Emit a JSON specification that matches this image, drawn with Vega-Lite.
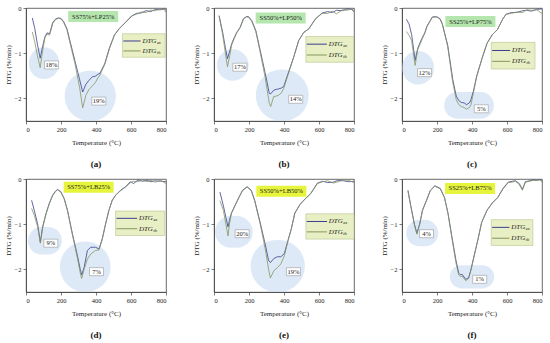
{
"$schema": "https://vega.github.io/schema/vega-lite/v6.json",
"padding": {"left": 3, "top": 4, "right": 4, "bottom": 2},
"config": {
  "view": {"stroke": "#444", "strokeWidth": 0.8},
  "font": "Liberation Serif",
  "axis": {"labelFont": "Liberation Serif", "titleFont": "Liberation Serif", "labelFontSize": 6.5, "titleFontSize": 7, "titleFontWeight": "normal", "labelColor": "#222", "titleColor": "#222", "tickSize": 3, "tickColor": "#444", "domainColor": "#444", "domainWidth": 0.8, "tickWidth": 0.7, "grid": false, "titlePadding": 3, "labelPadding": 2},
  "axisX": {"titlePadding": 6},
  "header": {"labelFont": "Liberation Serif"}
},
"data": {"values": [
{"p":"(a)","k":"c","t":36,"ex":-0.22,"th":-0.53},
{"p":"(a)","k":"c","t":50,"ex":-0.45,"th":-0.75},
{"p":"(a)","k":"c","t":65,"ex":-0.8,"th":-1.05},
{"p":"(a)","k":"c","t":81,"ex":-1.11,"th":-1.32},
{"p":"(a)","k":"c","t":95,"ex":-0.85,"th":-0.95},
{"p":"(a)","k":"c","t":108,"ex":-0.64,"th":-0.66},
{"p":"(a)","k":"c","t":120,"ex":-0.55,"th":-0.58},
{"p":"(a)","k":"c","t":135,"ex":-0.57,"th":-0.6},
{"p":"(a)","k":"c","t":153,"ex":-0.32,"th":-0.34},
{"p":"(a)","k":"c","t":170,"ex":-0.24,"th":-0.25},
{"p":"(a)","k":"c","t":185,"ex":-0.22,"th":-0.23},
{"p":"(a)","k":"c","t":200,"ex":-0.23,"th":-0.24},
{"p":"(a)","k":"c","t":215,"ex":-0.3,"th":-0.32},
{"p":"(a)","k":"c","t":234,"ex":-0.46,"th":-0.48},
{"p":"(a)","k":"c","t":252,"ex":-0.74,"th":-0.78},
{"p":"(a)","k":"c","t":279,"ex":-1.16,"th":-1.22},
{"p":"(a)","k":"c","t":306,"ex":-1.58,"th":-1.75},
{"p":"(a)","k":"c","t":324,"ex":-1.86,"th":-2.21},
{"p":"(a)","k":"c","t":342,"ex":-1.69,"th":-1.93},
{"p":"(a)","k":"c","t":360,"ex":-1.6,"th":-1.8},
{"p":"(a)","k":"c","t":380,"ex":-1.52,"th":-1.72},
{"p":"(a)","k":"c","t":396,"ex":-1.51,"th":-1.65},
{"p":"(a)","k":"c","t":410,"ex":-1.47,"th":-1.55},
{"p":"(a)","k":"c","t":423,"ex":-1.44,"th":-1.48},
{"p":"(a)","k":"c","t":450,"ex":-1.23,"th":-1.25},
{"p":"(a)","k":"c","t":477,"ex":-0.88,"th":-0.9},
{"p":"(a)","k":"c","t":505,"ex":-0.6,"th":-0.6},
{"p":"(a)","k":"c","t":532,"ex":-0.46,"th":-0.46},
{"p":"(a)","k":"c","t":568,"ex":-0.32,"th":-0.32},
{"p":"(a)","k":"c","t":604,"ex":-0.18,"th":-0.17},
{"p":"(a)","k":"c","t":630,"ex":-0.12,"th":-0.14},
{"p":"(a)","k":"c","t":658,"ex":-0.11,"th":-0.09},
{"p":"(a)","k":"c","t":685,"ex":-0.06,"th":-0.1},
{"p":"(a)","k":"c","t":712,"ex":-0.08,"th":-0.05},
{"p":"(a)","k":"c","t":740,"ex":-0.03,"th":-0.06},
{"p":"(a)","k":"c","t":766,"ex":-0.04,"th":-0.02},
{"p":"(a)","k":"c","t":790,"ex":-0.02,"th":-0.03},
{"p":"(a)","k":"c","t":800,"ex":-0.05,"th":-0.1},
{"p":"(b)","k":"c","t":29,"ex":-0.17,"th":-0.17},
{"p":"(b)","k":"c","t":50,"ex":-0.55,"th":-0.6},
{"p":"(b)","k":"c","t":65,"ex":-0.88,"th":-1.0},
{"p":"(b)","k":"c","t":77,"ex":-1.12,"th":-1.3},
{"p":"(b)","k":"c","t":90,"ex":-0.95,"th":-1.05},
{"p":"(b)","k":"c","t":101,"ex":-0.79,"th":-0.82},
{"p":"(b)","k":"c","t":115,"ex":-0.66,"th":-0.68},
{"p":"(b)","k":"c","t":130,"ex":-0.54,"th":-0.55},
{"p":"(b)","k":"c","t":149,"ex":-0.43,"th":-0.44},
{"p":"(b)","k":"c","t":168,"ex":-0.24,"th":-0.25},
{"p":"(b)","k":"c","t":185,"ex":-0.19,"th":-0.2},
{"p":"(b)","k":"c","t":197,"ex":-0.19,"th":-0.2},
{"p":"(b)","k":"c","t":216,"ex":-0.28,"th":-0.3},
{"p":"(b)","k":"c","t":239,"ex":-0.5,"th":-0.52},
{"p":"(b)","k":"c","t":264,"ex":-0.94,"th":-0.98},
{"p":"(b)","k":"c","t":293,"ex":-1.45,"th":-1.55},
{"p":"(b)","k":"c","t":316,"ex":-1.89,"th":-2.11},
{"p":"(b)","k":"c","t":324,"ex":-1.9,"th":-2.18},
{"p":"(b)","k":"c","t":341,"ex":-1.82,"th":-1.96},
{"p":"(b)","k":"c","t":355,"ex":-1.8,"th":-1.95},
{"p":"(b)","k":"c","t":369,"ex":-1.79,"th":-1.93},
{"p":"(b)","k":"c","t":385,"ex":-1.77,"th":-1.88},
{"p":"(b)","k":"c","t":398,"ex":-1.74,"th":-1.78},
{"p":"(b)","k":"c","t":427,"ex":-1.41,"th":-1.43},
{"p":"(b)","k":"c","t":456,"ex":-1.08,"th":-1.08},
{"p":"(b)","k":"c","t":484,"ex":-0.72,"th":-0.72},
{"p":"(b)","k":"c","t":513,"ex":-0.54,"th":-0.54},
{"p":"(b)","k":"c","t":542,"ex":-0.46,"th":-0.46},
{"p":"(b)","k":"c","t":580,"ex":-0.24,"th":-0.24},
{"p":"(b)","k":"c","t":618,"ex":-0.11,"th":-0.12},
{"p":"(b)","k":"c","t":650,"ex":-0.08,"th":-0.12},
{"p":"(b)","k":"c","t":676,"ex":-0.1,"th":-0.07},
{"p":"(b)","k":"c","t":700,"ex":-0.05,"th":-0.13},
{"p":"(b)","k":"c","t":733,"ex":-0.06,"th":-0.04},
{"p":"(b)","k":"c","t":760,"ex":-0.02,"th":-0.05},
{"p":"(b)","k":"c","t":785,"ex":-0.03,"th":-0.02},
{"p":"(b)","k":"c","t":800,"ex":-0.08,"th":-0.05},
{"p":"(c)","k":"c","t":25,"ex":-0.25,"th":-0.52},
{"p":"(c)","k":"c","t":40,"ex":-0.35,"th":-0.6},
{"p":"(c)","k":"c","t":55,"ex":-0.59,"th":-0.72},
{"p":"(c)","k":"c","t":75,"ex":-1.16,"th":-1.27},
{"p":"(c)","k":"c","t":90,"ex":-0.89,"th":-0.92},
{"p":"(c)","k":"c","t":114,"ex":-0.67,"th":-0.7},
{"p":"(c)","k":"c","t":130,"ex":-0.55,"th":-0.56},
{"p":"(c)","k":"c","t":143,"ex":-0.4,"th":-0.41},
{"p":"(c)","k":"c","t":158,"ex":-0.3,"th":-0.31},
{"p":"(c)","k":"c","t":173,"ex":-0.2,"th":-0.21},
{"p":"(c)","k":"c","t":190,"ex":-0.19,"th":-0.2},
{"p":"(c)","k":"c","t":202,"ex":-0.2,"th":-0.21},
{"p":"(c)","k":"c","t":218,"ex":-0.24,"th":-0.25},
{"p":"(c)","k":"c","t":231,"ex":-0.36,"th":-0.37},
{"p":"(c)","k":"c","t":261,"ex":-0.82,"th":-0.85},
{"p":"(c)","k":"c","t":290,"ex":-1.58,"th":-1.65},
{"p":"(c)","k":"c","t":310,"ex":-1.95,"th":-2.03},
{"p":"(c)","k":"c","t":325,"ex":-2.05,"th":-2.14},
{"p":"(c)","k":"c","t":339,"ex":-2.09,"th":-2.18},
{"p":"(c)","k":"c","t":355,"ex":-2.1,"th":-2.2},
{"p":"(c)","k":"c","t":369,"ex":-2.14,"th":-2.24},
{"p":"(c)","k":"c","t":385,"ex":-2.1,"th":-2.2},
{"p":"(c)","k":"c","t":394,"ex":-2.03,"th":-2.14},
{"p":"(c)","k":"c","t":408,"ex":-1.84,"th":-1.88},
{"p":"(c)","k":"c","t":427,"ex":-1.5,"th":-1.52},
{"p":"(c)","k":"c","t":457,"ex":-1.12,"th":-1.12},
{"p":"(c)","k":"c","t":486,"ex":-0.78,"th":-0.78},
{"p":"(c)","k":"c","t":516,"ex":-0.59,"th":-0.59},
{"p":"(c)","k":"c","t":545,"ex":-0.48,"th":-0.48},
{"p":"(c)","k":"c","t":575,"ex":-0.25,"th":-0.25},
{"p":"(c)","k":"c","t":594,"ex":-0.14,"th":-0.14},
{"p":"(c)","k":"c","t":625,"ex":-0.1,"th":-0.12},
{"p":"(c)","k":"c","t":653,"ex":-0.1,"th":-0.09},
{"p":"(c)","k":"c","t":690,"ex":-0.06,"th":-0.1},
{"p":"(c)","k":"c","t":712,"ex":-0.05,"th":-0.04},
{"p":"(c)","k":"c","t":740,"ex":-0.07,"th":-0.05},
{"p":"(c)","k":"c","t":770,"ex":-0.03,"th":-0.04},
{"p":"(c)","k":"c","t":800,"ex":-0.02,"th":-0.12},
{"p":"(d)","k":"c","t":32,"ex":-0.47,"th":-0.65},
{"p":"(d)","k":"c","t":47,"ex":-0.69,"th":-0.8},
{"p":"(d)","k":"c","t":66,"ex":-0.99,"th":-1.05},
{"p":"(d)","k":"c","t":82,"ex":-1.4,"th":-1.42},
{"p":"(d)","k":"c","t":95,"ex":-1.06,"th":-1.08},
{"p":"(d)","k":"c","t":114,"ex":-0.77,"th":-0.78},
{"p":"(d)","k":"c","t":133,"ex":-0.54,"th":-0.55},
{"p":"(d)","k":"c","t":152,"ex":-0.36,"th":-0.37},
{"p":"(d)","k":"c","t":168,"ex":-0.27,"th":-0.28},
{"p":"(d)","k":"c","t":180,"ex":-0.23,"th":-0.24},
{"p":"(d)","k":"c","t":199,"ex":-0.28,"th":-0.29},
{"p":"(d)","k":"c","t":218,"ex":-0.43,"th":-0.44},
{"p":"(d)","k":"c","t":237,"ex":-0.69,"th":-0.7},
{"p":"(d)","k":"c","t":265,"ex":-1.21,"th":-1.23},
{"p":"(d)","k":"c","t":294,"ex":-1.7,"th":-1.75},
{"p":"(d)","k":"c","t":310,"ex":-2.0,"th":-2.08},
{"p":"(d)","k":"c","t":318,"ex":-2.12,"th":-2.2},
{"p":"(d)","k":"c","t":332,"ex":-1.96,"th":-2.0},
{"p":"(d)","k":"c","t":351,"ex":-1.58,"th":-1.77},
{"p":"(d)","k":"c","t":370,"ex":-1.51,"th":-1.66},
{"p":"(d)","k":"c","t":398,"ex":-1.51,"th":-1.58},
{"p":"(d)","k":"c","t":417,"ex":-1.55,"th":-1.57},
{"p":"(d)","k":"c","t":436,"ex":-1.32,"th":-1.33},
{"p":"(d)","k":"c","t":455,"ex":-0.99,"th":-0.99},
{"p":"(d)","k":"c","t":474,"ex":-0.69,"th":-0.69},
{"p":"(d)","k":"c","t":493,"ex":-0.47,"th":-0.47},
{"p":"(d)","k":"c","t":512,"ex":-0.36,"th":-0.36},
{"p":"(d)","k":"c","t":540,"ex":-0.25,"th":-0.26},
{"p":"(d)","k":"c","t":569,"ex":-0.17,"th":-0.18},
{"p":"(d)","k":"c","t":597,"ex":-0.06,"th":-0.08},
{"p":"(d)","k":"c","t":615,"ex":-0.1,"th":-0.05},
{"p":"(d)","k":"c","t":640,"ex":-0.02,"th":-0.06},
{"p":"(d)","k":"c","t":665,"ex":-0.05,"th":-0.02},
{"p":"(d)","k":"c","t":690,"ex":-0.03,"th":-0.06},
{"p":"(d)","k":"c","t":715,"ex":-0.06,"th":-0.03},
{"p":"(d)","k":"c","t":739,"ex":-0.04,"th":-0.07},
{"p":"(d)","k":"c","t":770,"ex":-0.05,"th":-0.03},
{"p":"(d)","k":"c","t":800,"ex":-0.06,"th":-0.1},
{"p":"(e)","k":"c","t":34,"ex":-0.29,"th":-0.48},
{"p":"(e)","k":"c","t":54,"ex":-0.6,"th":-0.7},
{"p":"(e)","k":"c","t":68,"ex":-0.85,"th":-1.0},
{"p":"(e)","k":"c","t":80,"ex":-1.06,"th":-1.26},
{"p":"(e)","k":"c","t":90,"ex":-0.88,"th":-0.95},
{"p":"(e)","k":"c","t":100,"ex":-0.75,"th":-0.76},
{"p":"(e)","k":"c","t":123,"ex":-0.56,"th":-0.57},
{"p":"(e)","k":"c","t":143,"ex":-0.4,"th":-0.41},
{"p":"(e)","k":"c","t":163,"ex":-0.25,"th":-0.26},
{"p":"(e)","k":"c","t":189,"ex":-0.17,"th":-0.18},
{"p":"(e)","k":"c","t":213,"ex":-0.25,"th":-0.26},
{"p":"(e)","k":"c","t":233,"ex":-0.48,"th":-0.49},
{"p":"(e)","k":"c","t":263,"ex":-0.95,"th":-0.98},
{"p":"(e)","k":"c","t":293,"ex":-1.45,"th":-1.55},
{"p":"(e)","k":"c","t":312,"ex":-1.8,"th":-2.0},
{"p":"(e)","k":"c","t":322,"ex":-1.85,"th":-2.19},
{"p":"(e)","k":"c","t":342,"ex":-1.76,"th":-2.03},
{"p":"(e)","k":"c","t":362,"ex":-1.72,"th":-1.96},
{"p":"(e)","k":"c","t":382,"ex":-1.72,"th":-1.88},
{"p":"(e)","k":"c","t":402,"ex":-1.65,"th":-1.7},
{"p":"(e)","k":"c","t":422,"ex":-1.37,"th":-1.38},
{"p":"(e)","k":"c","t":442,"ex":-1.1,"th":-1.1},
{"p":"(e)","k":"c","t":462,"ex":-0.75,"th":-0.76},
{"p":"(e)","k":"c","t":492,"ex":-0.56,"th":-0.56},
{"p":"(e)","k":"c","t":521,"ex":-0.44,"th":-0.44},
{"p":"(e)","k":"c","t":551,"ex":-0.33,"th":-0.33},
{"p":"(e)","k":"c","t":571,"ex":-0.21,"th":-0.22},
{"p":"(e)","k":"c","t":591,"ex":-0.09,"th":-0.1},
{"p":"(e)","k":"c","t":621,"ex":-0.05,"th":-0.06},
{"p":"(e)","k":"c","t":650,"ex":-0.08,"th":-0.04},
{"p":"(e)","k":"c","t":681,"ex":-0.07,"th":-0.09},
{"p":"(e)","k":"c","t":710,"ex":-0.03,"th":-0.06},
{"p":"(e)","k":"c","t":740,"ex":-0.04,"th":-0.02},
{"p":"(e)","k":"c","t":770,"ex":-0.06,"th":-0.03},
{"p":"(e)","k":"c","t":800,"ex":-0.05,"th":-0.08},
{"p":"(f)","k":"c","t":34,"ex":-0.25,"th":-0.27},
{"p":"(f)","k":"c","t":51,"ex":-0.61,"th":-0.62},
{"p":"(f)","k":"c","t":71,"ex":-1.0,"th":-1.02},
{"p":"(f)","k":"c","t":85,"ex":-1.2,"th":-1.22},
{"p":"(f)","k":"c","t":101,"ex":-1.0,"th":-1.0},
{"p":"(f)","k":"c","t":117,"ex":-0.69,"th":-0.7},
{"p":"(f)","k":"c","t":142,"ex":-0.45,"th":-0.46},
{"p":"(f)","k":"c","t":162,"ex":-0.25,"th":-0.26},
{"p":"(f)","k":"c","t":188,"ex":-0.15,"th":-0.16},
{"p":"(f)","k":"c","t":219,"ex":-0.21,"th":-0.22},
{"p":"(f)","k":"c","t":243,"ex":-0.41,"th":-0.42},
{"p":"(f)","k":"c","t":263,"ex":-0.76,"th":-0.77},
{"p":"(f)","k":"c","t":287,"ex":-1.32,"th":-1.35},
{"p":"(f)","k":"c","t":308,"ex":-1.79,"th":-1.85},
{"p":"(f)","k":"c","t":324,"ex":-2.08,"th":-2.12},
{"p":"(f)","k":"c","t":334,"ex":-2.12,"th":-2.16},
{"p":"(f)","k":"c","t":344,"ex":-2.11,"th":-2.15},
{"p":"(f)","k":"c","t":364,"ex":-2.22,"th":-2.25},
{"p":"(f)","k":"c","t":381,"ex":-2.18,"th":-2.2},
{"p":"(f)","k":"c","t":395,"ex":-1.99,"th":-2.0},
{"p":"(f)","k":"c","t":409,"ex":-1.75,"th":-1.76},
{"p":"(f)","k":"c","t":435,"ex":-1.32,"th":-1.32},
{"p":"(f)","k":"c","t":455,"ex":-0.96,"th":-0.96},
{"p":"(f)","k":"c","t":486,"ex":-0.69,"th":-0.69},
{"p":"(f)","k":"c","t":516,"ex":-0.53,"th":-0.53},
{"p":"(f)","k":"c","t":547,"ex":-0.41,"th":-0.41},
{"p":"(f)","k":"c","t":577,"ex":-0.21,"th":-0.22},
{"p":"(f)","k":"c","t":607,"ex":-0.07,"th":-0.08},
{"p":"(f)","k":"c","t":630,"ex":-0.05,"th":-0.07},
{"p":"(f)","k":"c","t":648,"ex":-0.04,"th":-0.05},
{"p":"(f)","k":"c","t":670,"ex":-0.1,"th":-0.12},
{"p":"(f)","k":"c","t":688,"ex":-0.23,"th":-0.25},
{"p":"(f)","k":"c","t":705,"ex":-0.06,"th":-0.07},
{"p":"(f)","k":"c","t":729,"ex":-0.04,"th":-0.05},
{"p":"(f)","k":"c","t":750,"ex":-0.02,"th":-0.03},
{"p":"(f)","k":"c","t":769,"ex":-0.03,"th":-0.03},
{"p":"(f)","k":"c","t":790,"ex":-0.01,"th":-0.02},
{"p":"(f)","k":"c","t":800,"ex":-0.06,"th":-0.07},
{"p":"(a)","k":"r","t":17,"t2":189,"v":-0.87,"v2":-1.57},
{"p":"(a)","k":"r","t":221,"t2":513,"v":-1.39,"v2":-2.5},
{"p":"(b)","k":"r","t":16,"t2":198,"v":-0.91,"v2":-1.61},
{"p":"(b)","k":"r","t":239,"t2":541,"v":-1.36,"v2":-2.5},
{"p":"(c)","k":"r","t":2,"t2":182,"v":-0.95,"v2":-1.69},
{"p":"(c)","k":"r","t":241,"t2":525,"v":-1.86,"v2":-2.45},
{"p":"(d)","k":"r","t":11,"t2":205,"v":-1.06,"v2":-1.67},
{"p":"(d)","k":"r","t":194,"t2":483,"v":-1.38,"v2":-2.5},
{"p":"(e)","k":"r","t":6,"t2":221,"v":-0.82,"v2":-1.52},
{"p":"(e)","k":"r","t":209,"t2":519,"v":-1.35,"v2":-2.5},
{"p":"(f)","k":"r","t":24,"t2":207,"v":-0.9,"v2":-1.49},
{"p":"(f)","k":"r","t":273,"t2":527,"v":-1.91,"v2":-2.42},
{"p":"(a)","k":"l","t":146,"v":-1.26,"label":"18%"},
{"p":"(a)","k":"l","t":416,"v":-2.06,"label":"19%"},
{"p":"(b)","k":"l","t":148,"v":-1.31,"label":"17%"},
{"p":"(b)","k":"l","t":467,"v":-2.02,"label":"14%"},
{"p":"(c)","k":"l","t":129,"v":-1.43,"label":"12%"},
{"p":"(c)","k":"l","t":453,"v":-2.23,"label":"5%"},
{"p":"(d)","k":"l","t":142,"v":-1.42,"label":"9%"},
{"p":"(d)","k":"l","t":403,"v":-2.05,"label":"7%"},
{"p":"(e)","k":"l","t":161,"v":-1.21,"label":"20%"},
{"p":"(e)","k":"l","t":454,"v":-2.05,"label":"19%"},
{"p":"(f)","k":"l","t":140,"v":-1.21,"label":"4%"},
{"p":"(f)","k":"l","t":444,"v":-2.22,"label":"1%"},
{"p":"(a)","k":"h","t":384,"v":-0.19,"label":"SS75%+LP25%","g":"LP"},
{"p":"(b)","k":"h","t":381,"v":-0.22,"label":"SS50%+LP50%","g":"LP"},
{"p":"(c)","k":"h","t":391,"v":-0.3,"label":"SS25%+LP75%","g":"LP"},
{"p":"(d)","k":"h","t":358,"v":-0.18,"label":"SS75%+LB25%","g":"LB"},
{"p":"(e)","k":"h","t":385,"v":-0.27,"label":"SS50%+LB50%","g":"LB"},
{"p":"(f)","k":"h","t":389,"v":-0.21,"label":"SS25%+LB75%","g":"LB"},
{"p":"(a)","k":"b","t":551,"t2":795,"v":-0.57,"v2":-1.09},
{"p":"(b)","k":"b","t":525,"t2":798,"v":-0.63,"v2":-1.2},
{"p":"(c)","k":"b","t":510,"t2":760,"v":-0.76,"v2":-1.35},
{"p":"(d)","k":"b","t":512,"t2":792,"v":-0.71,"v2":-1.25},
{"p":"(e)","k":"b","t":525,"t2":800,"v":-0.77,"v2":-1.33},
{"p":"(f)","k":"b","t":510,"t2":748,"v":-0.9,"v2":-1.47},
{"p":"(a)","k":"g","s":"ex","t":556,"t2":655,"v":-0.73},
{"p":"(a)","k":"g","s":"th","t":556,"t2":655,"v":-0.95},
{"p":"(b)","k":"g","s":"ex","t":530,"t2":645,"v":-0.8},
{"p":"(b)","k":"g","s":"th","t":530,"t2":645,"v":-1.04},
{"p":"(c)","k":"g","s":"ex","t":515,"t2":618,"v":-0.94},
{"p":"(c)","k":"g","s":"th","t":515,"t2":618,"v":-1.18},
{"p":"(d)","k":"g","s":"ex","t":517,"t2":635,"v":-0.87},
{"p":"(d)","k":"g","s":"th","t":517,"t2":635,"v":-1.1},
{"p":"(e)","k":"g","s":"ex","t":530,"t2":646,"v":-0.94},
{"p":"(e)","k":"g","s":"th","t":530,"t2":646,"v":-1.17},
{"p":"(f)","k":"g","s":"ex","t":515,"t2":614,"v":-1.07},
{"p":"(f)","k":"g","s":"th","t":515,"t2":614,"v":-1.31},
{"p":"(a)","k":"gt","s":"ex","t":665,"v":-0.73},
{"p":"(a)","k":"gt","s":"th","t":665,"v":-0.95},
{"p":"(b)","k":"gt","s":"ex","t":655,"v":-0.8},
{"p":"(b)","k":"gt","s":"th","t":655,"v":-1.04},
{"p":"(c)","k":"gt","s":"ex","t":628,"v":-0.94},
{"p":"(c)","k":"gt","s":"th","t":628,"v":-1.18},
{"p":"(d)","k":"gt","s":"ex","t":645,"v":-0.87},
{"p":"(d)","k":"gt","s":"th","t":645,"v":-1.1},
{"p":"(e)","k":"gt","s":"ex","t":656,"v":-0.94},
{"p":"(e)","k":"gt","s":"th","t":656,"v":-1.17},
{"p":"(f)","k":"gt","s":"ex","t":624,"v":-1.07},
{"p":"(f)","k":"gt","s":"th","t":624,"v":-1.31}
]},
"facet": {"field": "p", "type": "nominal", "header": {"title": null, "labelOrient": "bottom", "labelFontWeight": "bold", "labelFontSize": 9, "labelPadding": 14, "labelColor": "#111"}},
"columns": 3,
"spacing": {"row": 6, "column": 24},
"resolve": {"axis": {"x": "independent", "y": "independent"}},
"spec": {
  "width": 140,
  "height": 113,
  "encoding": {
    "x": {"field": "t", "type": "quantitative", "title": "Temperature (°C)", "scale": {"domain": [0, 800], "nice": false}, "axis": {"values": [0, 200, 400, 600, 800]}},
    "y": {"field": "v", "type": "quantitative", "title": "DTG (%/min)", "scale": {"domain": [-2.5, 0], "nice": false}, "axis": {"values": [-2, -1, 0]}}
  },
  "layer": [
    {"transform": [{"filter": "datum.k == 'r'"}], "mark": {"type": "rect", "cornerRadius": 80, "fill": "#cfdff2", "fillOpacity": 0.7, "clip": true}, "encoding": {"x2": {"field": "t2"}, "y2": {"field": "v2"}}},
    {"transform": [{"filter": "datum.k == 'c'"}, {"fold": ["ex", "th"], "as": ["s", "v"]}], "mark": {"type": "line", "strokeWidth": 0.8, "clip": true}, "encoding": {"color": {"field": "s", "type": "nominal", "scale": {"domain": ["ex", "th"], "range": ["#3b3f8e", "#86955f"]}, "legend": null}}},
    {"transform": [{"filter": "datum.k == 'b'"}], "mark": {"type": "rect", "fill": "#e8efc4", "stroke": "#b3c58a", "strokeWidth": 0.6}, "encoding": {"x2": {"field": "t2"}, "y2": {"field": "v2"}}},
    {"transform": [{"filter": "datum.k == 'g'"}], "mark": {"type": "rule", "strokeWidth": 1}, "encoding": {"x2": {"field": "t2"}, "color": {"field": "s", "type": "nominal", "legend": null}}},
    {"transform": [{"filter": "datum.k == 'gt'"}], "mark": {"type": "text", "align": "left", "baseline": "middle", "fontStyle": "italic", "fontSize": 7, "color": "#222"}, "encoding": {"text": {"value": "DTG"}}},
    {"transform": [{"filter": "datum.k == 'gt'"}], "mark": {"type": "text", "align": "left", "baseline": "middle", "fontStyle": "italic", "fontSize": 4.5, "dx": 14.5, "dy": 2, "color": "#222"}, "encoding": {"text": {"field": "s"}}},
    {"transform": [{"filter": "datum.k == 'l'"}], "mark": {"type": "point", "shape": "M-1,-0.57H1V0.57H-1Z", "size": 196, "filled": true, "fill": "#ffffff", "stroke": "#888888", "strokeWidth": 0.5, "opacity": 1}},
    {"transform": [{"filter": "datum.k == 'l'"}], "mark": {"type": "text", "fontSize": 6.5, "baseline": "middle", "color": "#222"}, "encoding": {"text": {"field": "label"}}},
    {"transform": [{"filter": "datum.k == 'h'"}], "mark": {"type": "point", "shape": "M-1,-0.22H1V0.22H-1Z", "size": 2500, "filled": true, "opacity": 1, "strokeWidth": 0}, "encoding": {"fill": {"field": "g", "type": "nominal", "scale": {"domain": ["LP", "LB"], "range": ["#b4e6ad", "#e6f53c"]}, "legend": null}}},
    {"transform": [{"filter": "datum.k == 'h'"}], "mark": {"type": "text", "fontSize": 6.5, "baseline": "middle", "color": "#222"}, "encoding": {"text": {"field": "label"}}}
  ]
}
}
